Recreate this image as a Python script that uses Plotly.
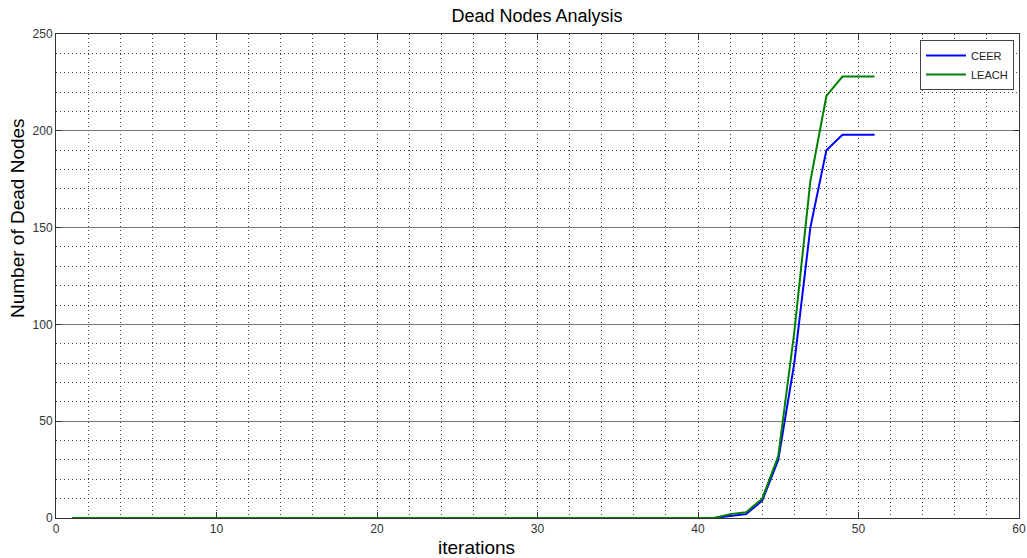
import plotly.graph_objects as go

iterations = list(range(1, 52))
ceer = [0] * 41 + [1, 2, 9, 30, 80, 150, 190, 198, 198, 198]
leach = [0] * 41 + [2, 3, 10, 32, 96, 174, 218, 228, 228, 228]
x_ticks = [0, 10, 20, 30, 40, 50, 60]
y_ticks = [0, 50, 100, 150, 200, 250]

fig = go.Figure()
fig.add_trace(go.Scatter(x=iterations, y=ceer, mode="lines", name="CEER",
                         line=dict(color="#0000ff", width=2)))
fig.add_trace(go.Scatter(x=iterations, y=leach, mode="lines", name="LEACH",
                         line=dict(color="#008000", width=2)))

font_family = "Liberation Sans, Arial, sans-serif"
dotted = "1px,3px"
plot_w = 1027 - 56 - 8

fig.update_layout(
    width=1027, height=558,
    margin=dict(l=56, r=8, t=34, b=40, autoexpand=False),
    paper_bgcolor="white", plot_bgcolor="white",
    title=dict(text="Dead Nodes Analysis", x=537 / 1027, xanchor="center", y=1 - 16 / 558, yanchor="middle",
               font=dict(family=font_family, size=18, color="black")),
    font=dict(family=font_family, color="#222"),
    legend=dict(x=0.9948, xanchor="right", y=0.9876, yanchor="top",
                bgcolor="white", bordercolor="#444", borderwidth=1,
                font=dict(family=font_family, size=11, color="#222"),
                tracegroupgap=0, itemwidth=40),
    showlegend=True,
    annotations=[
        dict(text="iterations", xref="paper", yref="paper", x=(476 - 56) / plot_w, y=-29 / 484,
             xanchor="center", yanchor="middle", showarrow=False,
             font=dict(family=font_family, size=19, color="black")),
        dict(text="Number of Dead Nodes", xref="paper", yref="paper", x=-38 / plot_w, y=(518 - 218) / 484,
             xanchor="center", yanchor="middle", showarrow=False, textangle=-90,
             font=dict(family=font_family, size=19, color="black")),
    ],
)

fig.update_xaxes(
    range=[0, 60], tickmode="array", tickvals=x_ticks, ticklabeloverflow="allow", automargin=False,
    showline=True, linecolor="#333", linewidth=1, mirror="ticks",
    ticks="inside", ticklen=6, tickcolor="#333",
    showgrid=True, gridcolor="#444", griddash=dotted, gridwidth=1,
    minor=dict(dtick=2, tick0=0, showgrid=True, gridcolor="#444", griddash=dotted, gridwidth=1),
    zeroline=False,
    tickfont=dict(family=font_family, size=12, color="#333"),
)
fig.update_yaxes(
    range=[0, 250], tickmode="array", tickvals=y_ticks, automargin=False,
    showline=True, linecolor="#333", linewidth=1, mirror="ticks",
    ticks="inside", ticklen=6, tickcolor="#333",
    showgrid=True, gridcolor="#777", gridwidth=1,
    minor=dict(dtick=10, tick0=0, showgrid=True, gridcolor="#444", griddash=dotted, gridwidth=1),
    zeroline=False,
    tickfont=dict(family=font_family, size=12, color="#333"),
)

fig.write_html("out.html")
